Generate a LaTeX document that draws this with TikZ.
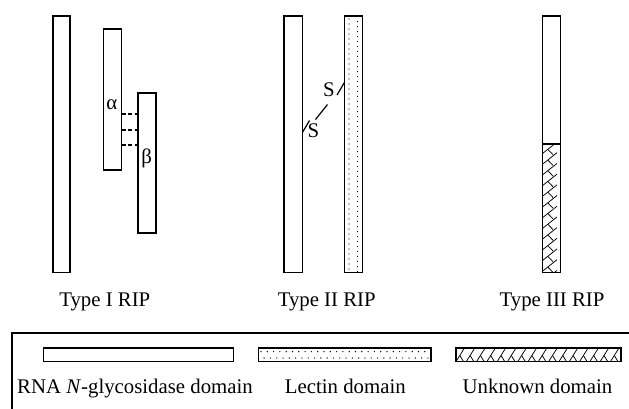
\documentclass[tikz,border=0pt]{standalone}
\usepackage{fontspec}
\setmainfont{Liberation Serif}
\usetikzlibrary{positioning, calc}

\begin{document}
\begin{tikzpicture}[x=1pt, y=-1pt,
  font=\fontsize{20.8}{24}\selectfont,
  chainbar/.style={draw, line width=1.3pt, fill=white, inner sep=0pt, outer sep=0pt},
  frame/.style={draw=black, line width=1.3pt},
  bond/.style={line width=1.1pt, dash pattern=on 4pt off 2.5pt},
  disulfide/.style={line width=1.2pt},
  hatch/.style={line width=0.75pt},
  label/.style={anchor=base, inner sep=0pt}]
\useasboundingbox (0,0) rectangle (629,408);

% Type I RIP
\node[chainbar, minimum width=17pt, minimum height=256.7pt] (onechain) at (61.5,144.35) {};
\node[chainbar, minimum width=18.4pt, minimum height=141pt] (alpha) at (112.5,99.5) {};
\node[chainbar, minimum width=18pt, minimum height=140pt] (beta) at (147,163) {};
\node[inner sep=0pt] (alphalbl) at (111.7,105) {α};
\node[inner sep=0pt] (betalbl) at (146.7,158) {β};
\foreach \y in {114,130,145}
  \draw[bond] (alpha.east |- 0,\y) -- (beta.west |- 0,\y);
\node[label] (typeone) at (104.8,306) {Type I RIP};

% Type II RIP
\node[chainbar, minimum width=18.7pt, minimum height=256.7pt] (achain) at (293.35,144.35) {};
\node[chainbar, minimum width=18pt, minimum height=256.7pt] (bchain) at (353.7,144.35) {};
\begin{scope}
  \clip (bchain.north west) rectangle (bchain.south east);
  \foreach \y in {19,24,...,272} {
    \fill (349,\y) circle (0.7pt);
    \fill (357.5,\y+2.5) circle (0.7pt);
  }
\end{scope}
\draw[frame] (bchain.north west) rectangle (bchain.south east);
\node[inner sep=0pt] (slow) at (313.5,131) {S};
\node[inner sep=0pt] (shigh) at (329,90) {S};
\draw[disulfide] (achain.east |- 0,132) -- (309.5,120.5);
\draw[disulfide] (315.5,119.5) -- (327.5,104.5);
\draw[disulfide] (337,95) -- (bchain.west |- 0,82);
\node[label] (typetwo) at (326.7,306) {Type II RIP};

% Type III RIP
\node[chainbar, minimum width=17.6pt, minimum height=128pt] (threetop) at (551.5,80) {};
\node[chainbar, minimum width=17.6pt, minimum height=128.7pt] (threebottom) at (551.5,208.35) {};
\begin{scope}
  \clip (threebottom.north west) rectangle (threebottom.south east);
  \foreach \y in {144,154.7,...,280} {
    \draw[hatch] (541,\y+10.7) -- (557,\y-2);
    \draw[hatch] (548,\y+5.5) -- (553,\y+10.7);
  }
\end{scope}
\draw[frame] (threebottom.north west) rectangle (threebottom.south east);
\node[label] (typethree) at (552,306) {Type III RIP};

% Legend
\draw[frame] (12,409) -- (12,333) -- (630,333);
\node[chainbar, minimum width=190pt, minimum height=13.5pt] (keyglyco) at (138.3,354.75) {};
\node[chainbar, minimum width=172.7pt, minimum height=13.5pt] (keylectin) at (344.65,354.75) {};
\begin{scope}
  \clip (keylectin.north west) rectangle (keylectin.south east);
  \foreach \x in {261,267.3,...,432} {
    \fill (\x,351.6) circle (0.7pt);
    \fill (\x+3.15,358) circle (0.7pt);
  }
\end{scope}
\draw[frame] (keylectin.north west) rectangle (keylectin.south east);
\node[chainbar, minimum width=165pt, minimum height=13.5pt] (keyunknown) at (538.5,354.75) {};
\begin{scope}
  \clip (keyunknown.north west) rectangle (keyunknown.south east);
  \foreach \x in {456,466.3,...,625} {
    \draw[hatch] (\x,361.5) -- (\x+8.5,348);
    \draw[hatch] (\x+3.8,355.5) -- (\x+7.5,361.5);
  }
\end{scope}
\draw[frame] (keyunknown.north west) rectangle (keyunknown.south east);
\node[label] (txtglyco) at (135,393) {RNA \textit{N}-glycosidase domain};
\node[label] (txtlectin) at (345.3,393) {Lectin domain};
\node[label] (txtunknown) at (537.5,393) {Unknown domain};
\end{tikzpicture}
\end{document}
